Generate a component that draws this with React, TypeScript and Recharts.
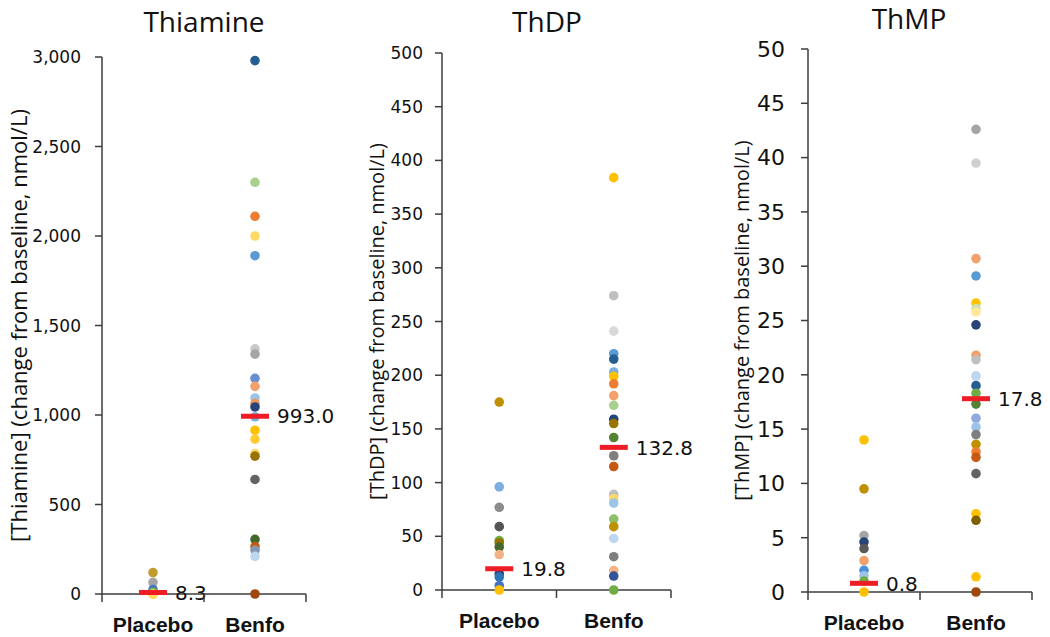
import React from 'react';
import { ScatterChart, Scatter, XAxis, YAxis } from 'recharts';

const groups = ['Placebo', 'Benfo'];

// Thiamine (nmol/L change from baseline)
const thiaminePlacebo = [120, 65, 25, 10, 0, 0];
const thiamineBenfo = [
  2980, 2300, 2110, 2000, 1890, 1370, 1340, 1205, 1160, 1095, 1065, 1045, 990,
  915, 865, 785, 770, 640, 305, 265, 245, 210, 0,
];
const thiamineMedians = [8.3, 993.0];
const thiamineTicks = [0, 500, 1000, 1500, 2000, 2500, 3000];

// ThDP
const thdpPlacebo = [175, 96, 77, 59, 46, 44, 40, 33, 15, 12, 4, 0];
const thdpBenfo = [
  384, 274, 241, 220, 215, 203, 199, 192, 181, 172, 159, 155, 142, 125, 115,
  89, 85, 81, 66, 59, 48, 31, 18, 13, 0,
];
const thdpMedians = [19.8, 132.8];
const thdpTicks = [0, 50, 100, 150, 200, 250, 300, 350, 400, 450, 500];

// ThMP
const thmpPlacebo = [14.0, 9.5, 5.2, 4.6, 4.0, 2.9, 2.0, 1.5, 1.0, 0];
const thmpBenfo = [
  42.6, 39.5, 30.7, 29.1, 26.6, 26.1, 25.8, 24.6, 21.8, 21.4, 19.9, 19.0, 18.3,
  17.3, 16.0, 15.2, 14.5, 13.6, 12.9, 12.4, 10.9, 7.2, 6.6, 1.4, 0,
];
const thmpMedians = [0.8, 17.8];
const thmpTicks = [0, 5, 10, 15, 20, 25, 30, 35, 40, 45, 50];

// marker colours, one per point (Excel-like palette)
const thiaminePlaceboColors = ['#c49a2c', '#a5a5a5', '#4472c4', '#70ad47', '#ffc000', '#ffd966'];
const thiamineBenfoColors = [
  '#255e91', '#a9d18e', '#ed7d31', '#ffd966', '#5b9bd5', '#c9c9c9', '#a5a5a5', '#698ed0',
  '#f4a06a', '#9dc3e6', '#f1975a', '#264478', '#7cafdd', '#ffc000', '#ffcd33', '#ffd966',
  '#997300', '#636363', '#43682b', '#c55a11', '#8497b0', '#bdd7ee', '#9e480e',
];
const thdpPlaceboColors = [
  '#bf9000', '#7cafdd', '#8c8c8c', '#555555', '#70ad47', '#997300', '#43682b', '#f4b183',
  '#264478', '#2e75b6', '#4472c4', '#ffc000',
];
const thdpBenfoColors = [
  '#ffc000', '#bfbfbf', '#d9d9d9', '#5b9bd5', '#255e91', '#7cafdd', '#ffc000', '#ed7d31',
  '#f4a06a', '#a9d18e', '#264478', '#997300', '#548235', '#7f7f7f', '#c55a11', '#bfbfbf',
  '#ffd966', '#9dc3e6', '#8cc168', '#bf9000', '#bdd7ee', '#7f7f7f', '#f4b183', '#2f5597',
  '#70ad47',
];
const thmpPlaceboColors = [
  '#ffc000', '#bf9000', '#a5a5a5', '#264478', '#595959', '#f4a06a', '#4a90d9', '#9dc3e6',
  '#70ad47', '#ffc000',
];
const thmpBenfoColors = [
  '#a5a5a5', '#d0d0d0', '#f4a06a', '#5b9bd5', '#ffc000', '#c5e0b4', '#ffe699', '#264478',
  '#f4a06a', '#bfbfbf', '#bdd7ee', '#255e91', '#70ad47', '#548235', '#8faadc', '#9dc3e6',
  '#7f7f7f', '#bf9000', '#ed7d31', '#c55a11', '#636363', '#ffc000', '#7f6000', '#ffc000',
  '#9e480e',
];

const H = 637;
const axisColor = '#3c3c3c';
const textColor = '#111';

const Dot = (p: any) => <circle cx={p.cx} cy={p.cy} r={4.8} fill={p.payload.color} />;

const MedianMark = (p: any) => (
  <g>
    <rect x={p.cx - 14} y={p.cy - 2.5} width={28} height={5} fill="#ee1c25" />
    <text
      x={p.cx + 22}
      y={p.cy}
      dy="0.36em"
      fontSize={20}
      fontFamily="DejaVu Sans, Verdana, sans-serif"
      fill={textColor}
    >
      {p.payload.y.toFixed(1)}
    </text>
  </g>
);

const Panel = (props: any) => {
  const {
    left, width, top, bottom, yAxisWidth, tickGap, tickFont, ticks, placebo, benfo,
    placeboColors, benfoColors, medians, yLabel, yLabelX, yLabelFont, thousands,
  } = props;
  const axisY = H - bottom;
  const placeboData = placebo.map((v: number, i: number) => ({ x: 0, y: v, color: placeboColors[i] }));
  const benfoData = benfo.map((v: number, i: number) => ({ x: 1, y: v, color: benfoColors[i] }));
  const medianData = medians.map((v: number, i: number) => ({ x: i, y: v }));
  const labelY = (top + axisY) / 2;

  const XTick = (t: any) => {
    const v = t.payload.value;
    if (Number.isInteger(v)) {
      return (
        <text
          x={t.x}
          y={axisY + 38}
          textAnchor="middle"
          fontSize={21}
          fontWeight="bold"
          fontFamily="Liberation Sans, Arial, sans-serif"
          fill={textColor}
        >
          {groups[v]}
        </text>
      );
    }
    return <line x1={t.x} x2={t.x} y1={axisY} y2={axisY + 8} stroke={axisColor} strokeWidth={1.5} />;
  };

  return (
    <div style={{ position: 'absolute', left, top: 0 }}>
      <ScatterChart width={width} height={H} margin={{ top, right: width - props.plotRight, bottom: 0, left: 0 }}>
        <XAxis
          type="number"
          dataKey="x"
          domain={[-0.5, 1.5]}
          ticks={[-0.5, 0, 0.5, 1, 1.5]}
          interval={0}
          height={bottom}
          axisLine={{ stroke: axisColor, strokeWidth: 1.5 }}
          tickLine={false}
          tick={<XTick />}
        />
        <YAxis
          type="number"
          dataKey="y"
          domain={[0, ticks[ticks.length - 1]]}
          ticks={ticks}
          interval={0}
          width={yAxisWidth}
          axisLine={{ stroke: axisColor, strokeWidth: 1.5 }}
          tickLine={{ stroke: axisColor, strokeWidth: 1.5 }}
          tickSize={7}
          tickMargin={tickGap}
          tick={{ fontSize: tickFont, fill: textColor, fontFamily: 'DejaVu Sans, Verdana, sans-serif' }}
          tickFormatter={(v: number) => (thousands ? v.toLocaleString('en-US') : String(v))}
          label={() => (
            <text
              x={yLabelX}
              y={labelY}
              transform={`rotate(-90, ${yLabelX}, ${labelY})`}
              textAnchor="middle"
              dominantBaseline="central"
              fontSize={yLabelFont}
              fontFamily="Open Sans, sans-serif"
              fill={textColor}
            >
              {yLabel}
            </text>
          )}
        />
        <Scatter data={placeboData} shape={Dot} isAnimationActive={false} />
        <Scatter data={benfoData} shape={Dot} isAnimationActive={false} />
        <Scatter data={medianData} shape={MedianMark} isAnimationActive={false} />
      </ScatterChart>
    </div>
  );
};

const titles = [
  { text: 'Thiamine', x: 204, y: 32 },
  { text: 'ThDP', x: 547, y: 32 },
  { text: 'ThMP', x: 909, y: 29 },
];

export default function App() {
  return (
    <div style={{ position: 'absolute', left: 0, top: 0, width: 1050, height: H, background: '#fff', overflow: 'hidden' }}>
      <Panel
        left={0}
        width={340}
        plotRight={306}
        top={57}
        bottom={43}
        yAxisWidth={102}
        tickGap={14}
        tickFont={17}
        ticks={thiamineTicks}
        placebo={thiaminePlacebo}
        benfo={thiamineBenfo}
        placeboColors={thiaminePlaceboColors}
        benfoColors={thiamineBenfoColors}
        medians={thiamineMedians}
        yLabel="[Thiamine] (change from baseline, nmol/L)"
        yLabelX={18}
        yLabelFont={22}
        thousands
      />
      <Panel
        left={340}
        width={362}
        plotRight={331}
        top={53}
        bottom={47}
        yAxisWidth={102}
        tickGap={12}
        tickFont={17}
        ticks={thdpTicks}
        placebo={thdpPlacebo}
        benfo={thdpBenfo}
        placeboColors={thdpPlaceboColors}
        benfoColors={thdpBenfoColors}
        medians={thdpMedians}
        yLabel="[ThDP] (change from baseline, nmol/L)"
        yLabelX={36}
        yLabelFont={20}
      />
      <Panel
        left={690}
        width={360}
        plotRight={342}
        top={49}
        bottom={45}
        yAxisWidth={118}
        tickGap={16}
        tickFont={22}
        ticks={thmpTicks}
        placebo={thmpPlacebo}
        benfo={thmpBenfo}
        placeboColors={thmpPlaceboColors}
        benfoColors={thmpBenfoColors}
        medians={thmpMedians}
        yLabel="[ThMP] (change from baseline, nmol/L)"
        yLabelX={51}
        yLabelFont={20}
      />
      <svg width={1050} height={60} style={{ position: 'absolute', left: 0, top: 0, pointerEvents: 'none' }}>
        {titles.map((t) => (
          <text key={t.text} x={t.x} y={t.y} textAnchor="middle" fontSize={28} fontFamily="Open Sans, sans-serif" fill={textColor}>
            {t.text}
          </text>
        ))}
      </svg>
    </div>
  );
}
